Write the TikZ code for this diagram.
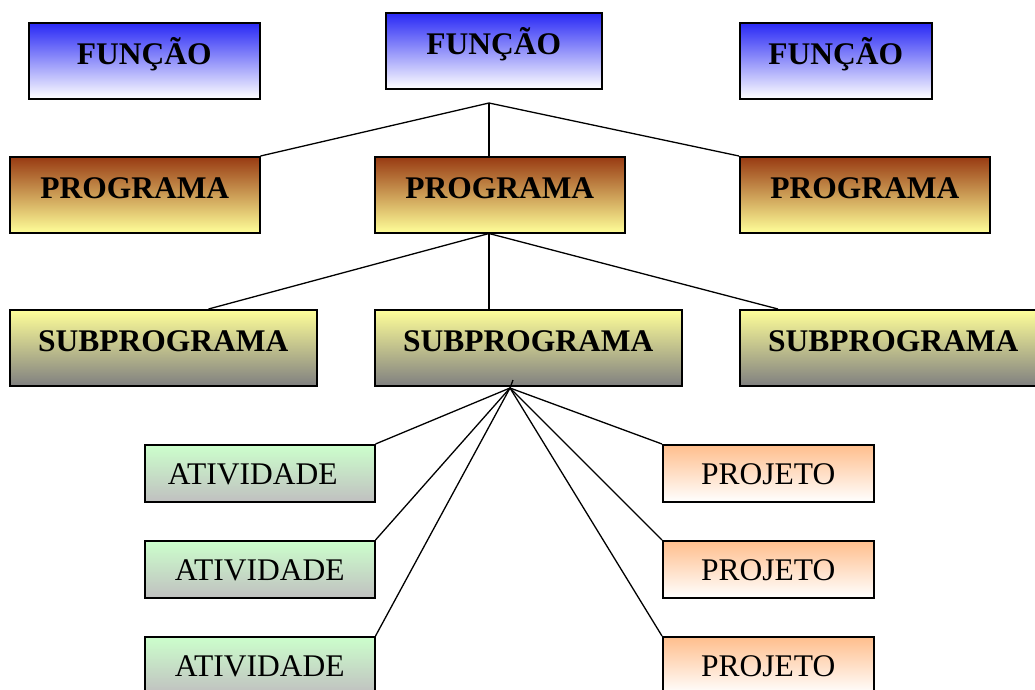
\documentclass[tikz,border=0pt]{standalone}
\usepackage{fontspec}
\setmainfont{Liberation Serif}
\definecolor{fblue}{RGB}{40,40,245}
\definecolor{fbluemid}{RGB}{150,150,250}
\definecolor{pbrown}{RGB}{152,58,18}
\definecolor{pmid}{RGB}{232,208,112}
\definecolor{pyellow}{RGB}{255,255,153}
\definecolor{sgray}{RGB}{128,128,128}
\definecolor{smid}{RGB}{200,200,142}
\definecolor{agreen}{RGB}{204,255,204}
\definecolor{agray}{RGB}{192,192,192}
\definecolor{porange}{RGB}{255,190,140}
\tikzset{
  every node/.style={font=\fontsize{31.5}{36}\selectfont},
  bigbox/.style={draw=black, line width=1.5pt, inner sep=0pt, anchor=north west,
    text height=42pt, text depth=34pt, font=\fontsize{31.5}{36}\selectfont\bfseries},
  smallbox/.style={draw=black, line width=1.5pt, inner sep=0pt, anchor=north west,
    text height=39.5pt, text depth=17.5pt, font=\fontsize{31.5}{36}\selectfont},
  funcao/.style={bigbox, top color=fblue, middle color=fbluemid, bottom color=white},
  programa/.style={bigbox, top color=pbrown, middle color=pmid, bottom color=pyellow},
  subprog/.style={bigbox, top color=pyellow, middle color=smid, bottom color=sgray},
  ativ/.style={smallbox, top color=agreen, bottom color=agray, minimum width=230pt},
  proj/.style={smallbox, top color=porange, bottom color=white, minimum width=211pt},
  link/.style={draw=black, line width=1.3pt}
}
\begin{document}
\begin{tikzpicture}[x=1pt,y=-1pt]
\useasboundingbox (0,0) rectangle (1035,689);
\clip (0,0) rectangle (1035,689);
% FUNCAO row
\node[funcao, minimum width=231pt] (f1) at (28,22) {FUNÇÃO};
\node[funcao, minimum width=216pt] (f2) at (385,12) {FUNÇÃO};
\node[funcao, minimum width=192pt] (f3) at (739,22) {FUNÇÃO};
% PROGRAMA row
\node[programa, minimum width=250pt] (p1) at (9,156) {PROGRAMA};
\node[programa, minimum width=250pt] (p2) at (374,156) {PROGRAMA};
\node[programa, minimum width=250pt] (p3) at (739,156) {PROGRAMA};
% SUBPROGRAMA row
\node[subprog, minimum width=307pt] (s1) at (9,309) {SUBPROGRAMA};
\node[subprog, minimum width=307pt] (s2) at (374,309) {SUBPROGRAMA};
\node[subprog, minimum width=307pt] (s3) at (739,309) {SUBPROGRAMA};
% ATIVIDADE
\node[ativ] (a1) at (144,444) {\hspace*{-14pt}ATIVIDADE};
\node[ativ] (a2) at (144,540) {ATIVIDADE};
\node[ativ] (a3) at (144,636) {ATIVIDADE};
% PROJETO
\node[proj] (r1) at (662,444) {PROJETO};
\node[proj] (r2) at (662,540) {PROJETO};
\node[proj] (r3) at (662,636) {PROJETO};
% hubs
\coordinate (h1) at (489,103);
\coordinate (h3) at (510,388);
\coordinate (t3) at (513,380);
\draw[link] (h1) -- (p1.north east);
\draw[link] (h1) -- (p2.north -| h1);
\draw[link] (h1) -- (p3.north west);
\draw[link] (p2.south -| h1) -- ([xshift=-109pt]s1.north east);
\draw[link] (p2.south -| h1) -- (s2.north -| h1);
\draw[link] (p2.south -| h1) -- ([xshift=39pt]s3.north west);
\draw[link] (t3) -- (h3);
\draw[link] (h3) -- (a1.north east);
\draw[link] (h3) -- (a2.north east);
\draw[link] (h3) -- (a3.north east);
\draw[link] (h3) -- (r1.north west);
\draw[link] (h3) -- (r2.north west);
\draw[link] (h3) -- (r3.north west);
\end{tikzpicture}
\end{document}
